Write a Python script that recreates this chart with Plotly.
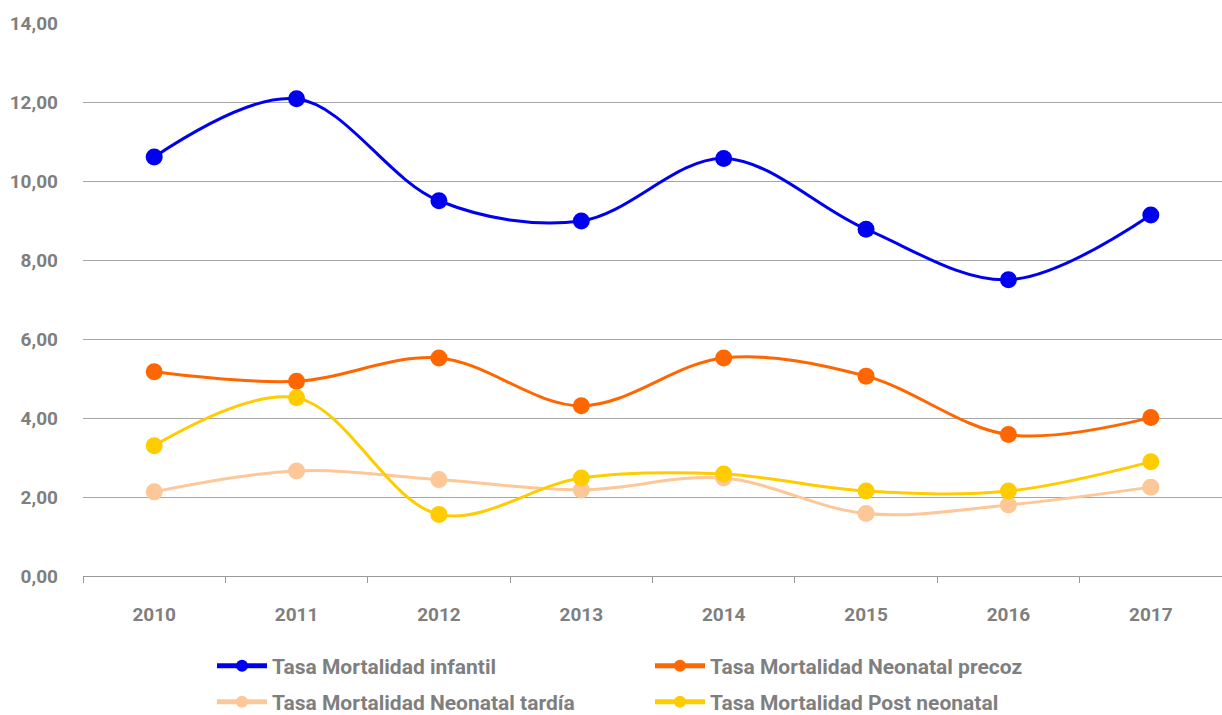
import plotly.graph_objects as go

years = ["2010", "2011", "2012", "2013", "2014", "2015", "2016", "2017"]
infantil = [10.61, 12.08, 9.50, 8.99, 10.57, 8.78, 7.50, 9.14]
precoz = [5.17, 4.93, 5.52, 4.31, 5.52, 5.06, 3.58, 4.01]
tardia = [2.13, 2.66, 2.44, 2.18, 2.48, 1.58, 1.80, 2.25]
post = [3.30, 4.51, 1.56, 2.48, 2.58, 2.15, 2.15, 2.89]

series = [
    ("Tasa Mortalidad infantil", infantil, "#0000f0", "legend"),
    ("Tasa Mortalidad Neonatal precoz", precoz, "#ff6600", "legend"),
    ("Tasa Mortalidad Neonatal tardía", tardia, "#fdc797", "legend2"),
    ("Tasa Mortalidad Post neonatal", post, "#ffcc00", "legend2"),
]

FONT = "Roboto"
GRAY = "#7f7f7f"

fig = go.Figure()
for name, vals, col, lg in series:
    fig.add_trace(go.Scatter(
        x=years, y=vals, name=name, mode="lines+markers",
        line=dict(color=col, width=3, shape="spline", smoothing=1.0),
        marker=dict(color=col, size=17),
        legend=lg,
    ))

W, H = 1222, 715
L, R, T, B = 83, 0, 23, 139
pw = W - L - R
ph = H - T - B
legx = (212 - L) / pw

leg_common = dict(
    orientation="h", xanchor="left", yanchor="middle",
    font=dict(family=FONT, size=21, color=GRAY, weight="bold"),
    entrywidth=373, entrywidthmode="pixels",
    bgcolor="rgba(0,0,0,0)", itemwidth=50, itemsizing="constant",
)

fig.update_layout(
    width=W, height=H,
    margin=dict(l=L, r=R, t=T, b=B, autoexpand=False),
    paper_bgcolor="white", plot_bgcolor="white",
    separators=",.",
    font=dict(family=FONT, color=GRAY, size=19, weight="bold"),
    legend=dict(x=legx, y=-(666 - T - ph) / ph, **leg_common),
    legend2=dict(x=legx, y=-(702 - T - ph) / ph, **leg_common),
    xaxis=dict(
        type="category", range=[-0.5, 7.5], tickson="boundaries",
        showgrid=False, showline=True, linecolor="#9a9a9a", linewidth=1,
        ticks="outside", ticklen=6, tickcolor="#9a9a9a",
        tickfont=dict(family=FONT, size=19, color=GRAY, weight="bold"),
        ticklabelstandoff=21, automargin=False,
    ),
    yaxis=dict(
        range=[0, 14], dtick=2, tickformat=".2f",
        showgrid=True, gridcolor="#a6a6a6", gridwidth=1,
        zeroline=False, showline=False,
        tickfont=dict(family=FONT, size=19, color=GRAY, weight="bold"),
        ticklabelstandoff=24, automargin=False,
    ),
)

fig.write_html(
    "out.html",
    config={"displayModeBar": False},
    post_script="document.body.style.margin='0';document.body.style.overflow='hidden';",
)
